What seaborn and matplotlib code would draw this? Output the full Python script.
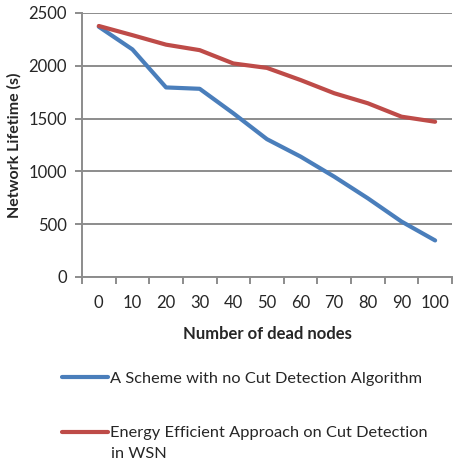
import pandas as pd
import matplotlib.pyplot as plt
import seaborn as sns
from matplotlib.ticker import MultipleLocator

# values
dead_nodes = [0, 10, 20, 30, 40, 50, 60, 70, 80, 90, 100]
no_cut_detection = [2370, 2155, 1795, 1782, 1550, 1305, 1140, 950, 745, 525, 346]
energy_efficient = [2377, 2290, 2200, 2148, 2022, 1980, 1865, 1740, 1645, 1518, 1470]

LABEL_BLUE = "A Scheme with no Cut Detection Algorithm"
LABEL_RED = "Energy Efficient Approach on Cut Detection"
LABEL_RED_2 = "in WSN"

BLUE = "#4A7EBB"
RED = "#BE4B48"
GRID = "#8C8C8C"
TEXT = "#262626"


def main():
    df = pd.DataFrame({
        "nodes": dead_nodes * 2,
        "lifetime": no_cut_detection + energy_efficient,
        "series": [LABEL_BLUE] * len(dead_nodes) + [LABEL_RED] * len(dead_nodes),
    })

    sns.set_theme(style="white")
    plt.rcParams["font.family"] = ["Lato", "DejaVu Sans"]

    fig = plt.figure(figsize=(4.59, 4.67), dpi=100)
    ax = fig.add_axes([0.1786, 0.4069, 0.806, 0.5653])

    sns.lineplot(data=df, x="nodes", y="lifetime", hue="series",
                 palette={LABEL_BLUE: BLUE, LABEL_RED: RED},
                 linewidth=3.0, ax=ax, legend=False)

    ax.set_xlim(-5, 105)
    ax.set_ylim(0, 2500)
    ax.yaxis.set_major_locator(MultipleLocator(500))
    ax.set_xticks(dead_nodes)
    ax.set_xticks([x - 5 for x in dead_nodes] + [105], minor=True)

    ax.grid(axis="y", color=GRID, linewidth=1.4)
    ax.set_axisbelow(True)
    for side in ["top", "right"]:
        ax.spines[side].set_visible(False)
    for side in ["left", "bottom"]:
        ax.spines[side].set_color(GRID)
        ax.spines[side].set_linewidth(1.4)

    ax.tick_params(axis="x", which="major", length=0, pad=13, labelsize=12, labelcolor=TEXT)
    ax.tick_params(axis="x", which="minor", bottom=True, length=5, width=1.4,
                   color=GRID, direction="out")
    ax.tick_params(axis="y", left=True, length=5, width=1.4, color=GRID,
                   direction="out", pad=6, labelsize=12, labelcolor=TEXT)

    ax.set_xlabel("Number of dead nodes", fontsize=12, fontweight="bold",
                  color=TEXT, labelpad=11)
    ax.set_ylabel("Network Lifetime (s)", fontsize=11.5, fontweight="bold",
                  color=TEXT, labelpad=5)

    # legend below the chart, handles at the first line of each label
    handles = [plt.Line2D([], [], color=BLUE, linewidth=3.0),
               plt.Line2D([], [], color=RED, linewidth=3.0)]
    fig.legend(handles, [LABEL_BLUE, LABEL_RED], loc="upper left",
               bbox_to_anchor=(0.103, 0.2364), frameon=False, fontsize=11.8,
               handlelength=2.8, handletextpad=0.15, labelspacing=2.45,
               labelcolor=TEXT)
    fig.text(0.242, 0.0193, LABEL_RED_2, fontsize=11.8, color=TEXT, va="baseline")

    fig.savefig("out.png", dpi=100)


if __name__ == "__main__":
    main()
